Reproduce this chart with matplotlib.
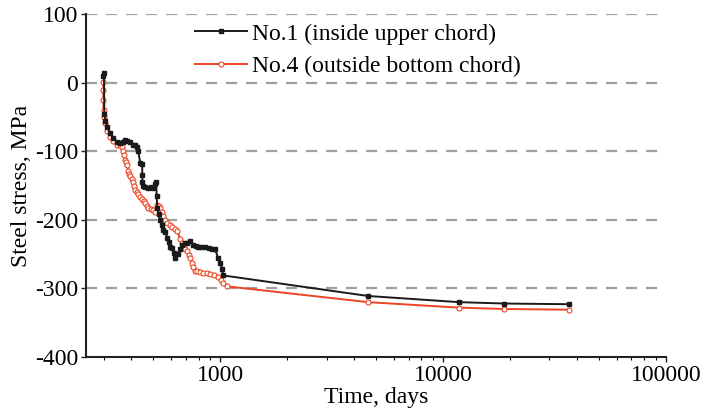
import numpy as np
import matplotlib
matplotlib.use("Agg")
import matplotlib.pyplot as plt
from matplotlib.ticker import LogLocator, FixedLocator, NullFormatter

plt.rcParams["font.family"] = ["Liberation Serif", "DejaVu Serif"]
plt.rcParams["axes.unicode_minus"] = False

# No.1 gauge (inside upper chord)
days_1 = [298, 301, 302, 305, 311, 320, 331, 345, 356, 367, 375, 383, 395, 407, 416,
          424, 429, 438, 447, 447, 448, 449, 462, 475, 488, 501, 511, 516, 519, 522,
          530, 538, 547, 555, 567, 579, 588, 597, 609, 618, 628, 648, 662, 675, 697,
          711, 734, 757, 777, 797, 820, 856, 890, 920, 950, 979, 1000, 1021, 1031,
          4610, 11800, 18800, 36700]
stress_1 = [10, 15, -45, -55, -64, -73, -81, -86, -88, -86, -84, -85, -86, -90, -91,
            -93, -100, -117, -119, -135, -145, -150, -152, -153, -152, -153, -147, -145,
            -165, -183, -192, -200, -208, -215, -217, -226, -232, -239, -241, -249, -255,
            -250, -243, -237, -234, -233, -231, -237, -238, -240, -240, -240, -241, -242,
            -243, -256, -263, -271, -281, -311, -320, -322, -323]

# No.4 gauge (outside bottom chord)
days_4 = [299, 299, 299, 300, 302, 305, 311, 321, 331, 345, 356, 363, 367, 371, 375,
          379, 383, 387, 391, 395, 403, 407, 412, 416, 422, 429, 438, 447, 454, 461,
          468, 475, 488, 501, 511, 522, 530, 538, 547, 555, 567, 579, 595, 609, 625,
          642, 662, 672, 683, 697, 711, 722, 734, 745, 757, 773, 790, 813, 840, 870,
          902, 935, 979, 1010, 1031, 1075, 4610, 11800, 18800, 36700]
stress_4 = [1, -10, -25, -40, -50, -58, -70, -79, -85, -90, -91, -93, -100, -106, -112,
            -116, -120, -128, -133, -136, -141, -144, -150, -156, -159, -162, -166, -169,
            -173, -176, -179, -182, -184, -186, -188, -178, -180, -183, -189, -195, -200,
            -205, -208, -210, -213, -216, -228, -234, -239, -242, -246, -251, -256, -263,
            -268, -274, -275, -276, -277, -278, -279, -280, -283, -287, -292, -297, -320,
            -328, -330, -331]

fig = plt.figure(figsize=(7.06, 4.15), dpi=100)
ax = fig.add_axes([0.1218, 0.1398, 0.8215, 0.8257])

ax.plot(days_1, stress_1, color="#1a1a1a", lw=1.4, marker="s", ms=3.4,
        mfc="#1a1a1a", mec="#1a1a1a", label="No.1 (inside upper chord)", zorder=3)
ax.plot(days_4, stress_4, color="#ee4422", lw=1.4, marker="o", ms=3.6,
        mfc="white", mec="#ee4422", mew=0.8, label="No.4 (outside bottom chord)", zorder=2)

ax.set_xscale("log")
ax.set_xlim(250, 100000)
ax.set_ylim(-400, 100)
ax.xaxis.set_major_locator(FixedLocator([1000, 10000, 100000]))
ax.xaxis.set_minor_locator(LogLocator(base=10, subs=np.arange(2, 10)))
ax.xaxis.set_minor_formatter(NullFormatter())
ax.set_xticklabels(["1000", "10000", "100000"])
ax.set_yticks(np.arange(-400, 101, 100))

for y in np.arange(-300, 101, 100):
    ax.axhline(y, color="#a0a0a0", lw=1.6, ls=(0, (5, 4)), zorder=1)

for s in ["top", "right"]:
    ax.spines[s].set_visible(False)
for s in ["left", "bottom"]:
    ax.spines[s].set_linewidth(1.5)
    ax.spines[s].set_color("#222222")

ax.tick_params(axis="both", which="major", labelsize=17, length=3.5, width=1,
               color="#222222", pad=2)
ax.tick_params(axis="x", which="minor", length=2.5, width=0.8)
ax.set_xlabel("Time, days", fontsize=17, labelpad=1)
ax.set_ylabel("Steel stress, MPa", fontsize=17, labelpad=2)

ax.legend(loc="upper left", bbox_to_anchor=(0.188, 0.974), frameon=False, fontsize=17,
          handlelength=2.2, handletextpad=0.2, labelspacing=0.45, borderaxespad=0,
          borderpad=0)

fig.savefig("out.png", dpi=100)
